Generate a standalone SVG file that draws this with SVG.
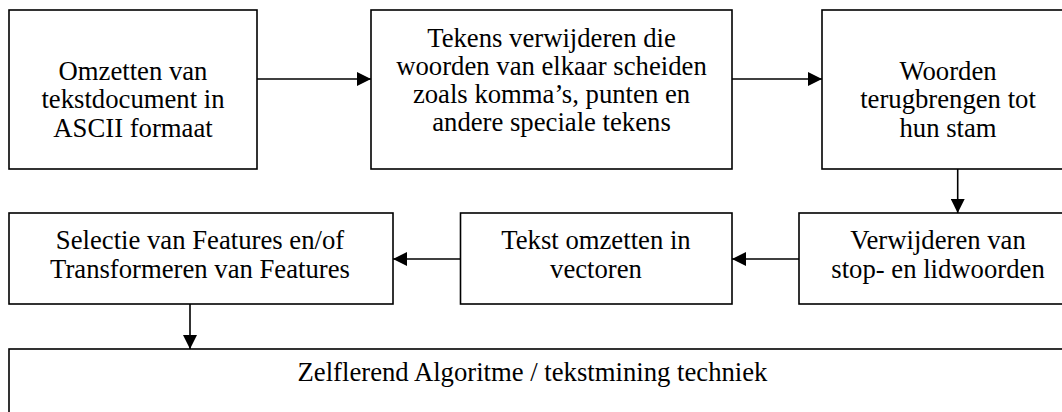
<svg xmlns="http://www.w3.org/2000/svg" width="1062" height="412" viewBox="0 0 1062 412">
<style>
.box{fill:#fff;stroke:#000;stroke-width:1.6}
.c{stroke:#000;stroke-width:1.6;fill:none}
</style>
<defs>
<marker id="ah" viewBox="0 0 10 10" refX="10" refY="5" markerWidth="14" markerHeight="14" markerUnits="userSpaceOnUse" orient="auto">
<path d="M0,0 L10,5 L0,10 Z" fill="#000"/>
</marker>
</defs>
<rect width="1062" height="412" fill="#fff"/>
<g font-family="Liberation Serif, Tinos, DejaVu Serif, serif" font-size="26.7" text-anchor="middle" fill="#000">
<g id="n1">
<rect class="box" x="9" y="10" width="248" height="159"/>
<text x="133" y="80">Omzetten van</text>
<text x="133" y="108.3">tekstdocument in</text>
<text x="133" y="136.6">ASCII formaat</text>
</g>
<g id="n2">
<rect class="box" x="371" y="10" width="361" height="159"/>
<text x="551.5" y="46.5">Tekens verwijderen die</text>
<text x="551.5" y="74.8">woorden van elkaar scheiden</text>
<text x="551.5" y="103.1">zoals komma’s, punten en</text>
<text x="551.5" y="131.4">andere speciale tekens</text>
</g>
<g id="n3">
<rect class="box" x="822" y="10" width="254" height="159"/>
<text x="948" y="80">Woorden</text>
<text x="948" y="108.3">terugbrengen tot</text>
<text x="948" y="136.6">hun stam</text>
</g>
<g id="n4">
<rect class="box" x="9" y="213" width="384" height="91"/>
<text x="200" y="249">Selectie van Features en/of</text>
<text x="200" y="278">Transformeren van Features</text>
</g>
<g id="n5">
<rect class="box" x="460.5" y="213" width="271.5" height="91"/>
<text x="596" y="249">Tekst omzetten in</text>
<text x="596" y="278">vectoren</text>
</g>
<g id="n6">
<rect class="box" x="799" y="213" width="278" height="91"/>
<text x="938" y="249">Verwijderen van</text>
<text x="938" y="278">stop- en lidwoorden</text>
</g>
<g id="n7">
<rect class="box" x="9" y="349" width="1070" height="90"/>
<text x="532.5" y="381">Zelflerend Algoritme / tekstmining techniek</text>
</g>
</g>
<g id="connectors">
<line class="c" x1="257" y1="79" x2="371" y2="79" marker-end="url(#ah)"/>
<line class="c" x1="732" y1="79" x2="822" y2="79" marker-end="url(#ah)"/>
<line class="c" x1="957.7" y1="169" x2="957.7" y2="213" marker-end="url(#ah)"/>
<line class="c" x1="799" y1="259" x2="732" y2="259" marker-end="url(#ah)"/>
<line class="c" x1="460.5" y1="259" x2="393" y2="259" marker-end="url(#ah)"/>
<line class="c" x1="190" y1="304" x2="190" y2="349" marker-end="url(#ah)"/>
</g>
</svg>
